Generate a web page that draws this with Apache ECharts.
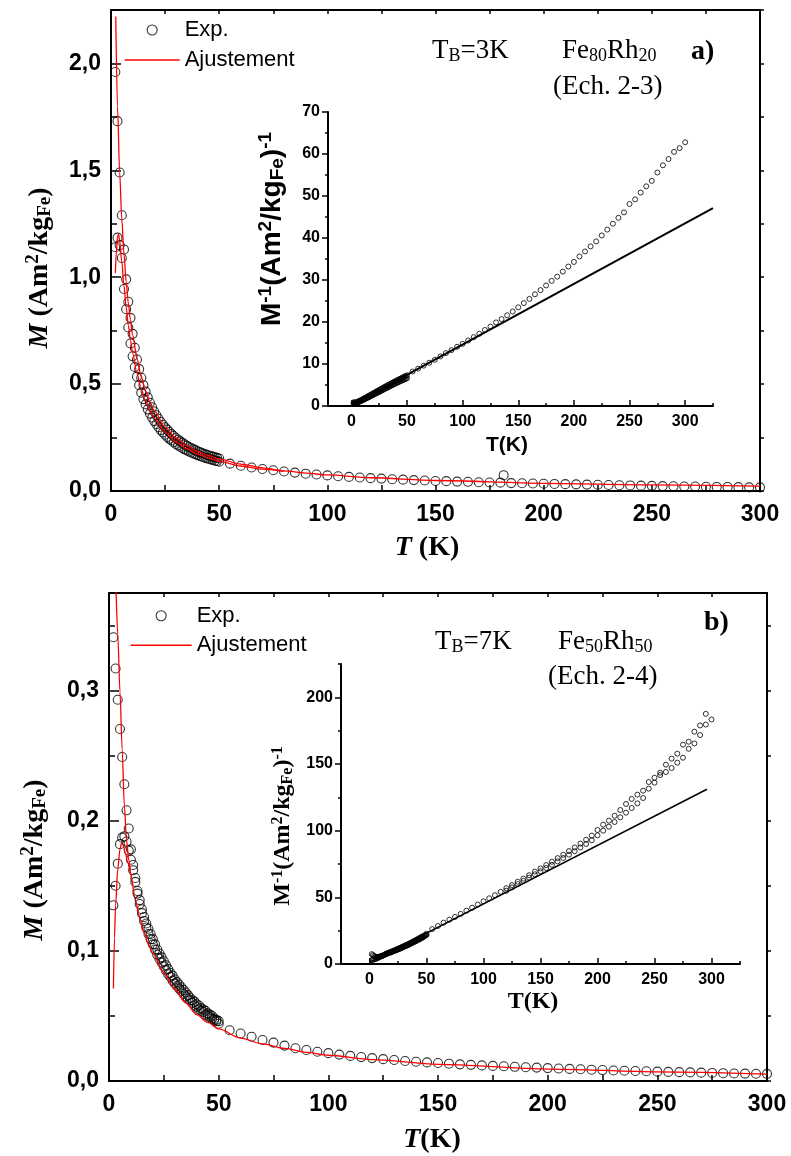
<!DOCTYPE html>
<html><head><meta charset="utf-8">
<script src="https://cdn.jsdelivr.net/npm/echarts@6/dist/echarts.min.js"></script>
<style>html,body{margin:0;padding:0;background:#fff}#c{width:791px;height:1156px}</style>
</head><body><div id="c"></div>
<script>
// ---------- data ----------
const T_LOW = [2,3,4,5,6,7,8,9,10,11,12,13,14,15,16,17,18,19,20,21,22,23,24,25,26,27,28,29,30,31,32,33,34,35,36,37,38,39,40,41,42,43,44,45,46,47,48,49,50];
const T_HIGH = [55,60,65,70,75,80,85,90,95,100,105,110,115,120,125,130,135,140,145,150,155,160,165,170,175,180,185,190,195,200,205,210,215,220,225,230,235,240,245,250,255,260,265,270,275,280,285,290,295,300];
const T_HIGH_B2 = [120,125,130,135,140,145,150,155,160,165,170,175,180,185,190,195,200,205,210,215,220,225,230,235,240,245,250,255,260,265,270,275,280,285,290,295];

// Panel a) Fe80Rh20 — M (Am2/kgFe)
const A_M_FC = [1.96,1.73,1.49,1.29,1.13,0.99,0.885,0.81,0.735,0.67,0.615,0.57,0.53,0.495,0.465,0.438,0.413,0.392,0.372,0.354,0.338,0.323,0.31,0.298,0.287,0.276,0.266,0.257,0.248,0.24,0.232,0.225,0.218,0.212,0.206,0.201,0.196,0.191,0.186,0.182,0.178,0.174,0.17,0.167,0.164,0.161,0.158,0.155,0.152];
const A_M_ZFC = [1.14,1.185,1.15,1.09,0.945,0.85,0.765,0.69,0.63,0.58,0.535,0.495,0.46,0.43,0.405,0.382,0.362,0.343,0.327,0.312,0.298,0.285,0.274,0.263,0.253,0.244,0.236,0.228,0.22,0.213,0.207,0.201,0.195,0.19,0.185,0.18,0.176,0.172,0.168,0.164,0.16,0.157,0.154,0.151,0.148,0.145,0.142,0.14,0.137];
const A_M_HIGH = [0.128,0.118,0.110,0.103,0.097,0.091,0.086,0.081,0.077,0.073,0.069,0.066,0.063,0.060,0.058,0.055,0.053,0.051,0.049,0.047,0.046,0.044,0.043,0.041,0.040,0.039,0.037,0.036,0.035,0.034,0.033,0.032,0.031,0.030,0.029,0.028,0.027,0.026,0.025,0.024,0.023,0.022,0.021,0.021,0.020,0.019,0.019,0.018,0.017,0.017];
const A_T_EXTRA = [181.5];
const A_M_EXTRA = [0.074];
const A_FIT_FC_T = [2.2,3,4,5,6,7,8,9,10,12,14,16,18,20,25,30,35,40,45,50,60,70,80,90,100,120,150,200,250,300];
const A_FIT_FC = [2.22,1.80,1.49,1.27,1.11,0.98,0.88,0.80,0.73,0.62,0.535,0.468,0.416,0.375,0.298,0.248,0.212,0.185,0.166,0.15,0.126,0.108,0.094,0.084,0.075,0.062,0.049,0.036,0.029,0.023];
const A_FIT_ZFC_T = [2,2.5,3,3.5,4,5,6,7,8,9,10,12,14,16,18,20,25,30,35,40,45,50,60,70,80];
const A_FIT_ZFC = [1.02,1.12,1.19,1.2,1.17,1.07,0.96,0.86,0.775,0.705,0.645,0.55,0.475,0.42,0.375,0.34,0.275,0.23,0.198,0.173,0.154,0.139,0.117,0.102,0.092];
// inset a) — M^-1
const IA_FC = [0.51,0.58,0.67,0.78,0.88,1.01,1.13,1.23,1.36,1.49,1.63,1.75,1.89,2.02,2.15,2.28,2.42,2.55,2.69,2.82,2.96,3.1,3.24,3.37,3.51,3.65,3.79,3.92,4.07,4.2,4.33,4.46,4.61,4.74,4.88,5.0,5.13,5.26,5.41,5.52,5.65,5.78,5.92,6.02,6.13,6.25,6.37,6.49,6.62];
const IA_ZFC = [0.88,0.84,0.86,0.92,1.06,1.18,1.31,1.45,1.59,1.72,1.87,2.02,2.17,2.33,2.47,2.62,2.76,2.92,3.06,3.21,3.36,3.51,3.65,3.8,3.95,4.1,4.24,4.39,4.55,4.69,4.83,4.98,5.13,5.26,5.41,5.56,5.68,5.81,5.95,6.1,6.25,6.37,6.49,6.62,6.76,6.9,7.04,7.14,7.3];
const IA_HIGH = [8.2,8.9,9.6,10.3,11.0,11.8,12.6,13.3,14.1,14.8,15.6,16.4,17.2,18.1,18.9,19.9,20.7,21.6,22.5,23.5,24.5,25.5,26.6,27.6,28.7,29.8,30.8,32.0,33.2,34.3,35.6,36.8,38.0,39.2,40.6,42.0,43.4,44.8,46.1,48.1,49.2,50.8,52.3,53.6,55.6,57.3,58.8,60.5,61.4,62.8];
const IA_FIT_T = [0,325];
const IA_FIT = [0.2,47.1];

// Panel b) Fe50Rh50
const B_M_FC = [0.341,0.317,0.293,0.2705,0.249,0.228,0.208,0.194,0.178,0.166,0.156,0.146,0.139,0.132,0.126,0.121,0.117,0.113,0.109,0.105,0.101,0.098,0.095,0.092,0.089,0.086,0.083,0.081,0.078,0.076,0.074,0.072,0.07,0.068,0.066,0.064,0.062,0.061,0.059,0.058,0.056,0.055,0.054,0.052,0.051,0.05,0.048,0.047,0.046];
const B_M_ZFC = [0.135,0.15,0.167,0.182,0.187,0.188,0.184,0.177,0.17,0.162,0.153,0.144,0.136,0.129,0.123,0.118,0.113,0.109,0.105,0.101,0.097,0.094,0.091,0.088,0.085,0.082,0.08,0.077,0.075,0.073,0.071,0.069,0.067,0.065,0.063,0.062,0.06,0.058,0.057,0.055,0.054,0.053,0.051,0.05,0.049,0.048,0.047,0.046,0.044];
const B_M_HIGH = [0.039,0.0365,0.034,0.0315,0.0295,0.0272,0.0252,0.0238,0.0225,0.0214,0.0203,0.0193,0.0184,0.0176,0.0168,0.0161,0.0154,0.0148,0.0143,0.0138,0.0133,0.0128,0.0124,0.012,0.0116,0.0113,0.0109,0.0106,0.0103,0.0099,0.0096,0.0093,0.009,0.0087,0.0084,0.0081,0.0079,0.0077,0.0075,0.0072,0.007,0.0068,0.0066,0.0064,0.0062,0.006,0.0058,0.0057,0.0056,0.0055];
const B_FIT_FC_T = [3.2,4,5,6,7,8,9,10,12,14,16,18,20,25,30,35,40,45,50,60,70,80,90,100,120,150,200,250,300];
const B_FIT_FC = [0.378,0.343,0.299,0.255,0.2115,0.185,0.17,0.158,0.139,0.125,0.114,0.105,0.098,0.083,0.0705,0.06,0.051,0.045,0.040,0.033,0.0285,0.025,0.022,0.0198,0.0165,0.0128,0.0092,0.007,0.0053];
const B_FIT_ZFC_T = [2,2.5,3,4,5,5.7,6.5,7.5,8.5,10];
const B_FIT_ZFC = [0.071,0.11,0.135,0.163,0.178,0.183,0.181,0.175,0.168,0.158];
// inset b)
const IB_FC = [2.9,3.2,3.4,3.7,4.0,4.4,4.8,5.2,5.6,6.0,6.4,6.8,7.2,7.6,7.9,8.3,8.5,8.8,9.2,9.5,9.9,10.2,10.5,10.9,11.2,11.6,12.0,12.3,12.8,13.2,13.5,13.9,14.3,14.7,15.2,15.6,16.1,16.4,16.9,17.2,17.9,18.2,18.5,19.2,19.6,20.0,20.8,21.3,21.7];
const IB_ZFC = [7.4,6.7,6.0,5.5,5.35,5.3,5.4,5.6,5.9,6.2,6.5,6.9,7.4,7.8,8.1,8.5,8.8,9.2,9.5,9.9,10.3,10.6,11.0,11.4,11.8,12.2,12.5,13.0,13.3,13.7,14.1,14.5,14.9,15.4,15.9,16.1,16.7,17.2,17.5,18.2,18.5,18.9,19.6,20.0,20.4,20.8,21.3,21.7,22.7];
const IB_HIGH = [26.2,28.5,31.0,33.2,35.3,37.6,40.0,42.2,44.6,47.0,49.3,51.6,54.1,56.9,59.2,61.7,64.0,66.6,69.3,71.7,74.2,76.7,79.4,81.9,84.7,87.4,90.3,93.2,96.3,100.5,104.5,107.5,111.2,115.5,120.0,123.8,127.0,130.0,136.5,139.7,143.5,149.5,154.0,157.7,164.5,166.7,174.2,178.9,187.6,183.4];
const IB_HIGH2 = [55.0,57.5,60.0,62.3,64.8,67.3,69.6,72.0,74.4,77.0,79.5,82.0,84.6,87.4,90.0,92.8,96.5,100.0,103.0,106.5,110.0,113.5,117.0,120.5,124.5,131.5,136.0,141.7,144.0,147.0,151.0,154.7,161.4,165.4,171.7,179.6];
const IB_FIT_T = [0,296];
const IB_FIT = [1.2,131];

// tick values / labels
const MAIN_X_TICKS = [0,25,50,75,100,125,150,175,200,225,250,275,300];
const MAIN_X_LABELS = [0,50,100,150,200,250,300];
const A_Y_LABELS = [0,0.5,1.0,1.5,2.0];
const A_Y_MINOR = [0.25,0.75,1.25,1.75];
const A_Y_RIGHT = [0,0.25,0.5,0.75,1.0,1.25,1.5,1.75,2.0,2.25];
const B_Y_LABELS = [0,0.1,0.2,0.3];
const B_Y_MINOR = [0.05,0.15,0.25,0.35];
const B_Y_RIGHT = [0,0.05,0.1,0.15,0.2,0.25,0.3,0.35];
const INS_X_LABELS = [0,50,100,150,200,250,300];
const INS_X_MINOR = [25,75,125,175,225,275,325];
const IA_Y_LABELS = [0,10,20,30,40,50,60,70];
const IA_Y_MINOR = [5,15,25,35,45,55,65];
const IB_Y_LABELS = [0,50,100,150,200];
const IB_Y_MINOR = [25,75,125,175,225];

// ---------- chart ----------
const SANS = '"Liberation Sans", Arial, sans-serif';
const SERIF = '"Liberation Serif", "Times New Roman", serif';
const zip = (a, b) => a.map((t, i) => [t, b[i]]);
const comma = v => v.toFixed(1).replace('.', ',');

const R = {
  mainA: {left:111, top:10, width:649, height:481},
  insA:  {left:328, top:112, width:385, height:294},
  mainB: {left:109, top:593, width:658, height:488},
  insB:  {left:341, top:664, width:399, height:300}
};
const grid = r => Object.assign({containLabel:false, outerBoundsMode:'none'}, r);

function axis(o) {
  return {
    type:'value', gridIndex:o.grid, position:o.pos, min:o.min, max:o.max,
    show: o.show !== false,
    axisLine:{show:!!o.line, onZero:false, lineStyle:{color:'#000', width:2}},
    axisTick: o.ticks ? {show:true, inside:o.inside, length:o.len, customValues:o.ticks, lineStyle:{color:'#000', width:1.5}} : {show:false},
    axisLabel: o.labels ? {show:true, customValues:o.labels, formatter:o.fmt || (v => String(v)), fontSize:o.fs, fontWeight:'bold', fontFamily:o.ff || SANS, color:'#000', margin:o.margin} : {show:false},
    splitLine:{show:false}, minorTick:{show:false}, minorSplitLine:{show:false}
  };
}

const xAxis = [
  axis({grid:0,pos:'bottom',min:0,max:300,line:true,ticks:MAIN_X_TICKS,inside:true,len:6,labels:MAIN_X_LABELS,fs:23,margin:12}),
  axis({grid:0,pos:'top',min:0,max:300,line:true,ticks:MAIN_X_TICKS,inside:true,len:4}),
  axis({grid:1,pos:'bottom',min:0,max:300,show:false}),
  axis({grid:2,pos:'bottom',min:-21,max:325,line:true,ticks:INS_X_LABELS,inside:true,len:6,labels:INS_X_LABELS,fs:16,margin:8}),
  axis({grid:3,pos:'bottom',min:-21,max:325,ticks:INS_X_MINOR,inside:true,len:3}),
  axis({grid:4,pos:'bottom',min:0,max:300,line:true,ticks:MAIN_X_TICKS,inside:true,len:6,labels:MAIN_X_LABELS,fs:23,margin:12}),
  axis({grid:4,pos:'top',min:0,max:300,line:true,ticks:MAIN_X_TICKS,inside:true,len:4}),
  axis({grid:5,pos:'bottom',min:0,max:300,show:false}),
  axis({grid:6,pos:'bottom',min:-25,max:325,line:true,ticks:INS_X_LABELS,inside:true,len:6,labels:INS_X_LABELS,fs:16,margin:8}),
  axis({grid:7,pos:'bottom',min:-25,max:325,ticks:INS_X_MINOR,inside:true,len:3})
];
const yAxis = [
  axis({grid:0,pos:'left',min:0,max:2.25,line:true,ticks:A_Y_LABELS,inside:true,len:10,labels:A_Y_LABELS,fmt:comma,fs:23,margin:10}),
  axis({grid:0,pos:'right',min:0,max:2.25,line:true,ticks:A_Y_RIGHT,inside:false,len:4}),
  axis({grid:1,pos:'left',min:0,max:2.25,ticks:A_Y_MINOR,inside:true,len:6}),
  axis({grid:2,pos:'left',min:0,max:70,line:true,ticks:IA_Y_LABELS,inside:false,len:6,labels:IA_Y_LABELS,fs:16,margin:8}),
  axis({grid:3,pos:'left',min:0,max:70,ticks:IA_Y_MINOR,inside:false,len:3}),
  axis({grid:4,pos:'left',min:0,max:0.375,line:true,ticks:B_Y_LABELS,inside:true,len:10,labels:B_Y_LABELS,fmt:comma,fs:23,margin:10}),
  axis({grid:4,pos:'right',min:0,max:0.375,line:true,ticks:B_Y_RIGHT,inside:false,len:4}),
  axis({grid:5,pos:'left',min:0,max:0.375,ticks:B_Y_MINOR,inside:true,len:6}),
  axis({grid:6,pos:'left',min:0,max:225,line:true,ticks:IB_Y_LABELS,inside:false,len:6,labels:IB_Y_LABELS,fs:16,margin:8,ff:SANS}),
  axis({grid:7,pos:'left',min:0,max:225,ticks:IB_Y_MINOR,inside:false,len:3})
];

const exp = (name, ai, data, size, bw) => ({type:'scatter', name, xAxisIndex:ai, yAxisIndex:ai, data, symbol:'circle', symbolSize:size,
  itemStyle:{color:'rgba(0,0,0,0)', borderColor:'#000', borderWidth:bw}, z:2, silent:true, animation:false});
const fit = (name, ai, data, color, w) => ({type:'line', name, xAxisIndex:ai, yAxisIndex:ai, data, symbol:'none', showSymbol:false,
  smooth:0.3, smoothMonotone:'x', lineStyle:{color, width:w}, itemStyle:{color}, z:3, silent:true, clip:true, animation:false});

const series = [
  exp('Exp.', 0, zip(T_LOW, A_M_FC), 9, 1.1),
  exp('Exp.', 0, zip(T_LOW, A_M_ZFC), 9, 1.1),
  exp('Exp.', 0, zip(T_HIGH, A_M_HIGH).concat(zip(A_T_EXTRA, A_M_EXTRA)), 9, 1.1),
  fit('Ajustement', 0, zip(A_FIT_FC_T, A_FIT_FC), '#ff0000', 1.3),
  fit('Ajustement', 0, zip(A_FIT_ZFC_T, A_FIT_ZFC), '#ff0000', 1.3),
  exp('inv', 3, zip(T_LOW, IA_FC), 5, 1),
  exp('inv', 3, zip(T_LOW, IA_ZFC), 5, 1),
  exp('inv', 3, zip(T_HIGH, IA_HIGH), 5, 1),
  fit('invfit', 3, zip(IA_FIT_T, IA_FIT), '#000', 2),
  exp('Exp.', 5, zip(T_LOW, B_M_FC), 9, 1.1),
  exp('Exp.', 5, zip(T_LOW, B_M_ZFC), 9, 1.1),
  exp('Exp.', 5, zip(T_HIGH, B_M_HIGH), 9, 1.1),
  fit('Ajustement', 5, zip(B_FIT_FC_T, B_FIT_FC), '#ff0000', 1.3),
  fit('Ajustement', 5, zip(B_FIT_ZFC_T, B_FIT_ZFC), '#ff0000', 1.3),
  exp('inv', 8, zip(T_LOW, IB_FC), 5, 1),
  exp('inv', 8, zip(T_LOW, IB_ZFC), 5, 1),
  exp('inv', 8, zip(T_HIGH, IB_HIGH), 5, 1),
  exp('inv', 8, zip(T_HIGH_B2, IB_HIGH2), 5, 1),
  fit('invfit', 8, zip(IB_FIT_T, IB_FIT), '#000', 1.6)
];

const legendData = [
  {name:'Exp.', icon:'circle', itemStyle:{color:'rgba(0,0,0,0)', borderColor:'#000', borderWidth:1.1}},
  {name:'Ajustement', itemStyle:{color:'rgba(0,0,0,0)', borderColor:'rgba(0,0,0,0)', borderWidth:0, opacity:0}, lineStyle:{color:'#ff0000', width:1.3, opacity:1}}
];
const legend = (left, top, w, lh) => ({
  data:legendData, orient:'vertical', left, top, padding:0, itemGap:0, itemWidth:w, itemHeight:10,
  selectedMode:false, textStyle:{fontFamily:SANS, fontSize:22, color:'#000', lineHeight:lh}
});

// rich text helpers
const richSerif = (fs, bold) => ({
  n:{fontFamily:SERIF, fontSize:fs, fontWeight:bold?'bold':'normal', fill:'#000'},
  i:{fontFamily:SERIF, fontSize:fs, fontWeight:'bold', fontStyle:'italic', fill:'#000'},
  s:{fontFamily:SERIF, fontSize:Math.round(fs*0.68), fontWeight:bold?'bold':'normal', fill:'#000', padding:[Math.round(fs*0.4),0,0,0]},
  p:{fontFamily:SERIF, fontSize:Math.round(fs*0.68), fontWeight:bold?'bold':'normal', fill:'#000', padding:[0,0,Math.round(fs*0.45),0]}
});
const richSans = (fs) => ({
  n:{fontFamily:SANS, fontSize:fs, fontWeight:'bold', fill:'#000'},
  s:{fontFamily:SANS, fontSize:Math.round(fs*0.68), fontWeight:'bold', fill:'#000', padding:[Math.round(fs*0.4),0,0,0]},
  p:{fontFamily:SANS, fontSize:Math.round(fs*0.68), fontWeight:'bold', fill:'#000', padding:[0,0,Math.round(fs*0.45),0]}
});
const txt = (x, y, text, rich, align, rot) => ({
  type:'text', x, y, rotation: rot || 0, z:10, silent:true,
  style:{text, rich, align: align || 'left', verticalAlign:'middle', fill:'#000'}
});

const graphic = [
  // panel a
  txt(432, 51, '{n|T}{s|B}{n|=3K}', richSerif(27,false)),
  txt(562, 51, '{n|Fe}{s|80}{n|Rh}{s|20}', richSerif(27,false)),
  txt(691, 52, '{n|a)}', richSerif(28,true)),
  txt(553, 87, '{n|(Ech. 2-3)}', richSerif(27,false)),
  txt(40, 268, '{i|M}{n| (Am}{p|2}{n|/kg}{s|Fe}{n|)}', richSerif(28,true), 'center', Math.PI/2),
  txt(427, 548, '{i|T}{n| (K)}', richSerif(28,true), 'center'),
  txt(272, 229, '{n|M}{p|-1}{n|(Am}{p|2}{n|/kg}{s|Fe}{n|)}{p|-1}', richSans(28), 'center', Math.PI/2),
  txt(507, 445, '{n|T(K)}', richSans(21), 'center'),
  // panel b
  txt(435, 642, '{n|T}{s|B}{n|=7K}', richSerif(27,false)),
  txt(558, 642, '{n|Fe}{s|50}{n|Rh}{s|50}', richSerif(27,false)),
  txt(704, 623, '{n|b)}', richSerif(28,true)),
  txt(548, 677, '{n|(Ech. 2-4)}', richSerif(27,false)),
  txt(35, 860, '{i|M}{n| (Am}{p|2}{n|/kg}{s|Fe}{n|)}', richSerif(28,true), 'center', Math.PI/2),
  txt(432, 1140, '{i|T}{n|(K)}', richSerif(28,true), 'center'),
  txt(283, 826, '{n|M}{p|-1}{n|(Am}{p|2}{n|/kg}{s|Fe}{n|)}{p|-1}', richSerif(24,true), 'center', Math.PI/2),
  txt(533, 1002, '{n|T(K)}', richSerif(24,true), 'center')
];

const chart = echarts.init(document.getElementById('c'), null, {renderer:'canvas', width:791, height:1156});
chart.setOption({
  backgroundColor:'#fff',
  animation:false,
  grid:[grid(R.mainA), grid(R.mainA), grid(R.insA), grid(R.insA), grid(R.mainB), grid(R.mainB), grid(R.insB), grid(R.insB)],
  xAxis, yAxis, series,
  legend:[legend(124, 15, 55, 30), legend(130, 601, 61, 29.5)],
  graphic
});
</script></body></html>
